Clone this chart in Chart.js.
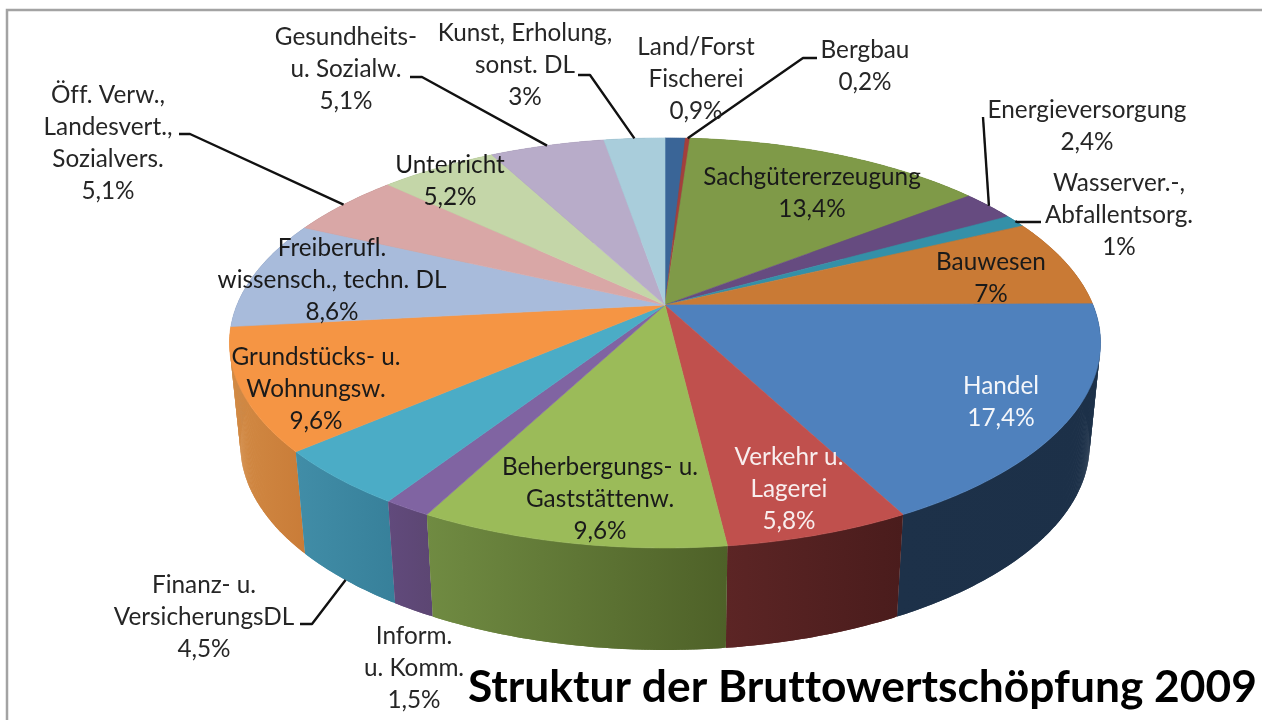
<!DOCTYPE html>
<html><head><meta charset="utf-8">
<style>html,body{margin:0;padding:0;background:#fff}canvas{display:block}</style>
<script src="https://cdn.jsdelivr.net/npm/chart.js@4"></script>
</head><body><canvas id="c" width="1263" height="720"></canvas>
<script>
const chartTitle = "Struktur der Bruttowertschöpfung 2009";
const categories = [
  ["Land/Forst","Fischerei"],["Bergbau"],["Sachgütererzeugung"],["Energieversorgung"],
  ["Wasserver.-,","Abfallentsorg."],["Bauwesen"],["Handel"],["Verkehr u.","Lagerei"],
  ["Beherbergungs- u.","Gaststättenw."],["Inform.","u. Komm."],["Finanz- u.","VersicherungsDL"],
  ["Grundstücks- u.","Wohnungsw."],["Freiberufl.","wissensch., techn. DL"],
  ["Öff. Verw.,","Landesvert.,","Sozialvers."],["Unterricht"],["Gesundheits-","u. Sozialw."],
  ["Kunst, Erholung,","sonst. DL"]
];
const shareValues = [0.9,0.2,13.4,2.4,1,7,17.4,5.8,9.6,1.5,4.5,9.6,8.6,5.1,5.2,5.1,3];
const topColors = ["#3a6597","#a33f3c","#7f9a48","#664b80","#3490a8","#c97a35","#4f81bd","#c0504d","#9bbb59","#8064a2","#4bacc6","#f59544","#a8bbdb","#d9a7a6","#c4d6a8","#b8acc9","#a9cddb"];
const wallLeft  = ["#2a4a70","#7a2e2c","#5f7536","#4c3860","#276b7d","#955a27","#1d3149","#5c2525","#708b42","#614a7c","#418da7","#d28a44","#8090a8","#a88080","#98a880","#8a8098","#80a0a8"];
const wallRight = ["#2a4a70","#7a2e2c","#5f7536","#4c3860","#276b7d","#955a27","#1c3048","#4a1c1c","#4e6128","#5c4672","#37809a","#c97c38","#8090a8","#a88080","#98a880","#8a8098","#80a0a8"];
// label placement: x centre, y of first line, text colour
const labelX = [696,865,812,1087,1119,991,1001,789,600,414,204,316,332,108,450,346,525];
const labelY = [47,50,177,110,183,262,386,457,467,636,585,357,248,95,165,37,33];
const labelInk = ["#262626","#262626","#1a1a1a","#262626","#262626","#1a1a1a","#f4f6fa","#f8eeee","#1a1a1a","#262626","#262626","#1a1a1a","#1a1a1a","#262626","#1a1a1a","#262626","#262626"];
// leader lines: elbow points from label to the middle of the slice rim
const leaders = {1:[[817,58],[803,58]],3:[[983,117]],4:[[1041,222],[1017,222]],10:[[300,624],[312,624]],13:[[179,134],[190,134]],15:[[410,77],[422,77]],16:[[578,75],[590,75]]};
const leaderOnBase = {10:true};

const geom = {cx:665, top:305, a:428, b:198, p:0.185, base:407, baseX:0.975};
const fullTurnEnd = -Math.PI/2 + 2*Math.PI;
const sweepDegrees = shareValues.reduce((s,v)=>s+v,0)*3.6; // printed percentages taken literally on the circle
function projTop(t){const x=Math.cos(t),y=Math.sin(t),w=1-geom.p*y;return [geom.cx+geom.a*x/w, geom.top+geom.b*y/w];}
function projBase(t){const x=Math.cos(t),y=Math.sin(t),w=1-geom.p*y;return [geom.cx+geom.baseX*geom.a*x/w, geom.base+geom.b*y/w];}
function samples(s,e){const n=Math.max(2,Math.ceil((e-s)/0.006));const r=[];for(let i=0;i<=n;i++)r.push(s+(e-s)*i/n);return r;}
function endOf(a){return Math.min(a.endAngle,fullTurnEnd);}

const pie3d = {
  id:'pie3d',
  beforeDatasetsDraw(chart){
    const ctx=chart.ctx, arcs=chart.getDatasetMeta(0).data;
    ctx.save();
    ctx.strokeStyle="#a3a3a3";ctx.lineWidth=2.5;
    ctx.beginPath();ctx.moveTo(7,720);ctx.lineTo(7,10);ctx.lineTo(1262,10);ctx.stroke();
    // walls back to front
    const order=arcs.map((a,i)=>i).sort((i,j)=>{
      const mi=(arcs[i].startAngle+endOf(arcs[i]))/2,mj=(arcs[j].startAngle+endOf(arcs[j]))/2;
      return Math.sin(mi)-Math.sin(mj);});
    for(const i of order){
      const a=arcs[i],ts=samples(a.startAngle,endOf(a));
      const up=ts.map(projTop),lo=ts.map(projBase);
      const xs=up.concat(lo).map(p=>p[0]);
      const g=ctx.createLinearGradient(Math.min(...xs),0,Math.max(...xs),0);
      g.addColorStop(0,wallLeft[i]);g.addColorStop(1,wallRight[i]);
      ctx.fillStyle=g;
      for(let k=0;k+1<ts.length;k++){
        const m=Math.min(k+2,ts.length-1);
        ctx.beginPath();ctx.moveTo(up[k][0],up[k][1]);ctx.lineTo(up[m][0],up[m][1]);
        ctx.lineTo(lo[m][0],lo[m][1]);ctx.lineTo(lo[k][0],lo[k][1]);ctx.closePath();ctx.fill();
      }
    }
    // top faces
    arcs.forEach((a,i)=>{
      ctx.beginPath();ctx.moveTo(geom.cx,geom.top);
      samples(a.startAngle,endOf(a)).map(projTop).forEach(p=>ctx.lineTo(p[0],p[1]));
      ctx.closePath();ctx.fillStyle=topColors[i];ctx.strokeStyle=topColors[i];ctx.lineWidth=0.6;ctx.fill();ctx.stroke();
    });
    // leaders
    ctx.strokeStyle="#111";ctx.lineWidth=2.4;ctx.lineJoin="round";
    Object.keys(leaders).forEach(k=>{
      const a=arcs[k],m=(a.startAngle+endOf(a))/2,end=leaderOnBase[k]?projBase(m):projTop(m);
      ctx.beginPath();
      leaders[k].forEach((p,n)=>n?ctx.lineTo(p[0],p[1]):ctx.moveTo(p[0],p[1]));
      ctx.lineTo(end[0],end[1]);ctx.stroke();
    });
    // labels
    ctx.textAlign="center";ctx.textBaseline="middle";ctx.font='24.3px Lato';ctx.letterSpacing='0.01px';
    categories.forEach((lines,i)=>{
      ctx.fillStyle=labelInk[i];
      const all=lines.concat([String(shareValues[i]).replace('.',',')+'%']);
      all.forEach((t,n)=>ctx.fillText(t,labelX[i],labelY[i]+n*32));
    });
    ctx.fillStyle="#000";ctx.font='bold 44.3px Lato';ctx.textAlign="left";
    ctx.fillText(chartTitle,468,688);
    ctx.restore();
    return false;
  }
};
new Chart(document.getElementById('c'),{
  type:'pie',
  data:{labels:categories.map(c=>c.join(' ')),datasets:[{data:shareValues,backgroundColor:topColors,borderWidth:0}]},
  options:{responsive:false,animation:false,rotation:0,circumference:sweepDegrees,plugins:{legend:{display:false},tooltip:{enabled:false},title:{display:false}}},
  plugins:[pie3d]
});
</script></body></html>
